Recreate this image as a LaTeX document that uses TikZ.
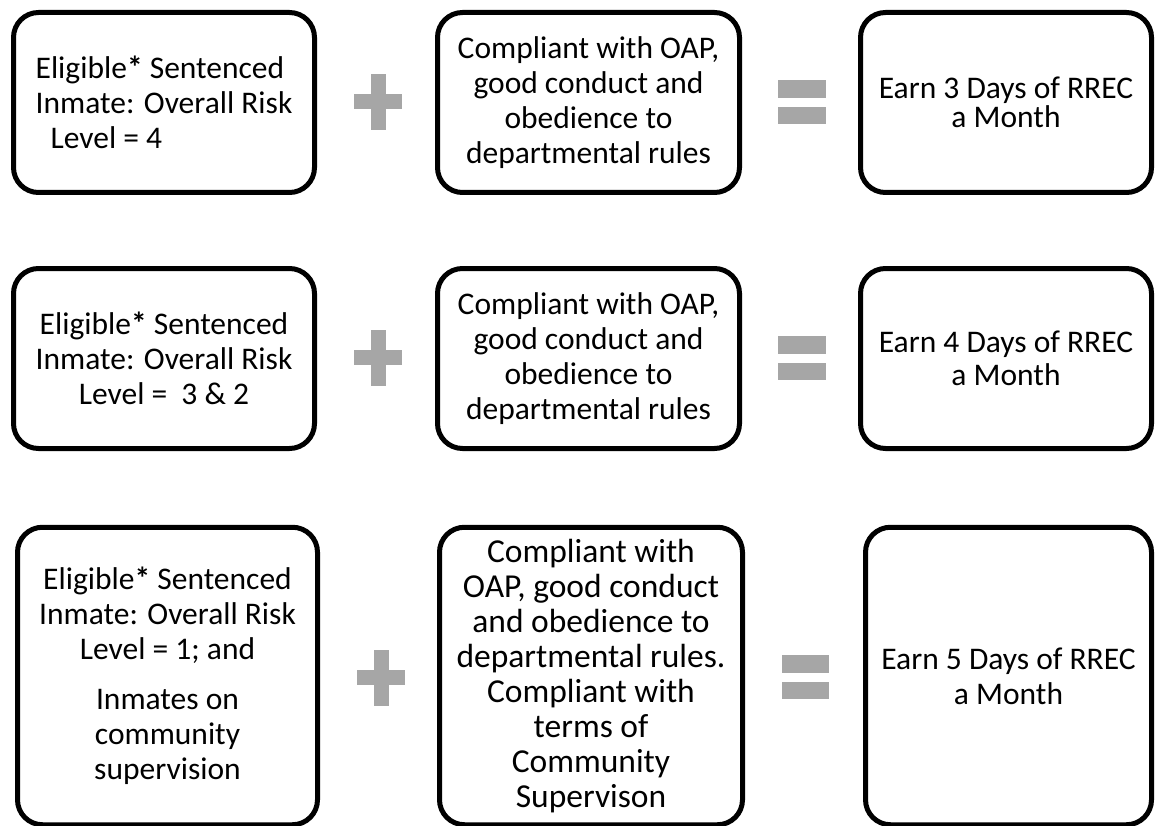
\documentclass[tikz,border=0pt]{standalone}
\usepackage{fontspec}
\setmainfont{Carlito}
\definecolor{signgray}{RGB}{166,166,166}

\begin{document}
\begin{tikzpicture}[x=1pt,y=-1pt,
  box/.style={draw, line width=5pt, rounded corners=25pt, inner sep=0pt, align=center, font=\fontsize{31.5}{35}\selectfont},
  sign/.style={fill=signgray}]
\clip (0,0) rectangle (1155,826);

% row 1
\node[box, minimum width=301pt, minimum height=180pt, align=left] (riskfour) at (164,102.5) {Eligible\textbf{*} Sentenced\\Inmate: Overall Risk\\\hspace*{15pt}Level = 4};
\node[box, minimum width=302pt, minimum height=180pt] (comply1) at (588.5,102.5) {Compliant with OAP,\\good conduct and\\obedience to\\departmental rules};
\node[box, minimum width=291pt, minimum height=180pt, font=\fontsize{31.5}{28.5}\selectfont] (earn3) at (1006,102.5) {Earn 3 Days of RREC\\a Month};
\fill[sign] (354.3,94.3) rectangle +(47.4,15);
\fill[sign] (370.7,74.3) rectangle +(15.3,55.7);
\fill[sign] (778.3,80) rectangle +(47.4,17.7);
\fill[sign] (778.3,106.7) rectangle +(47.4,17.6);

% row 2
\node[box, minimum width=301pt, minimum height=180pt] (riskthree) at (164,358.5) {Eligible\textbf{*} Sentenced\\Inmate: Overall Risk\\Level =\ \ 3 \& 2};
\node[box, minimum width=302pt, minimum height=180pt] (comply2) at (588.5,358.5) {Compliant with OAP,\\good conduct and\\obedience to\\departmental rules};
\node[box, minimum width=291pt, minimum height=180pt, font=\fontsize{31.5}{33}\selectfont] (earn4) at (1006,358.5) {Earn 4 Days of RREC\\a Month};
\fill[sign] (354.3,350.3) rectangle +(47.4,15);
\fill[sign] (370.7,330.3) rectangle +(15.3,55.7);
\fill[sign] (778.3,336) rectangle +(47.4,17.7);
\fill[sign] (778.3,362.7) rectangle +(47.4,17.6);

% row 3
\node[box, minimum width=300pt, minimum height=297.5pt] (riskone) at (167.5,676) {Eligible\textbf{*} Sentenced\\Inmate: Overall Risk\\Level = 1; and\\[15pt]Inmates on\\community\\supervision};
\node[box, minimum width=303pt, minimum height=297.5pt, font=\fontsize{33.5}{35}\selectfont] (comply3) at (591,676) {Compliant with\\OAP, good conduct\\and obedience to\\departmental rules.\\Compliant with\\terms of\\Community\\Supervison};
\node[box, minimum width=286pt, minimum height=297.5pt] (earn5) at (1008.5,676) {Earn 5 Days of RREC\\a Month};
\fill[sign] (357.3,670) rectangle +(47.4,15);
\fill[sign] (373.7,650) rectangle +(15.3,55.7);
\fill[sign] (782,655) rectangle +(47.4,17.7);
\fill[sign] (782,681.7) rectangle +(47.4,17.6);
\end{tikzpicture}
\end{document}
